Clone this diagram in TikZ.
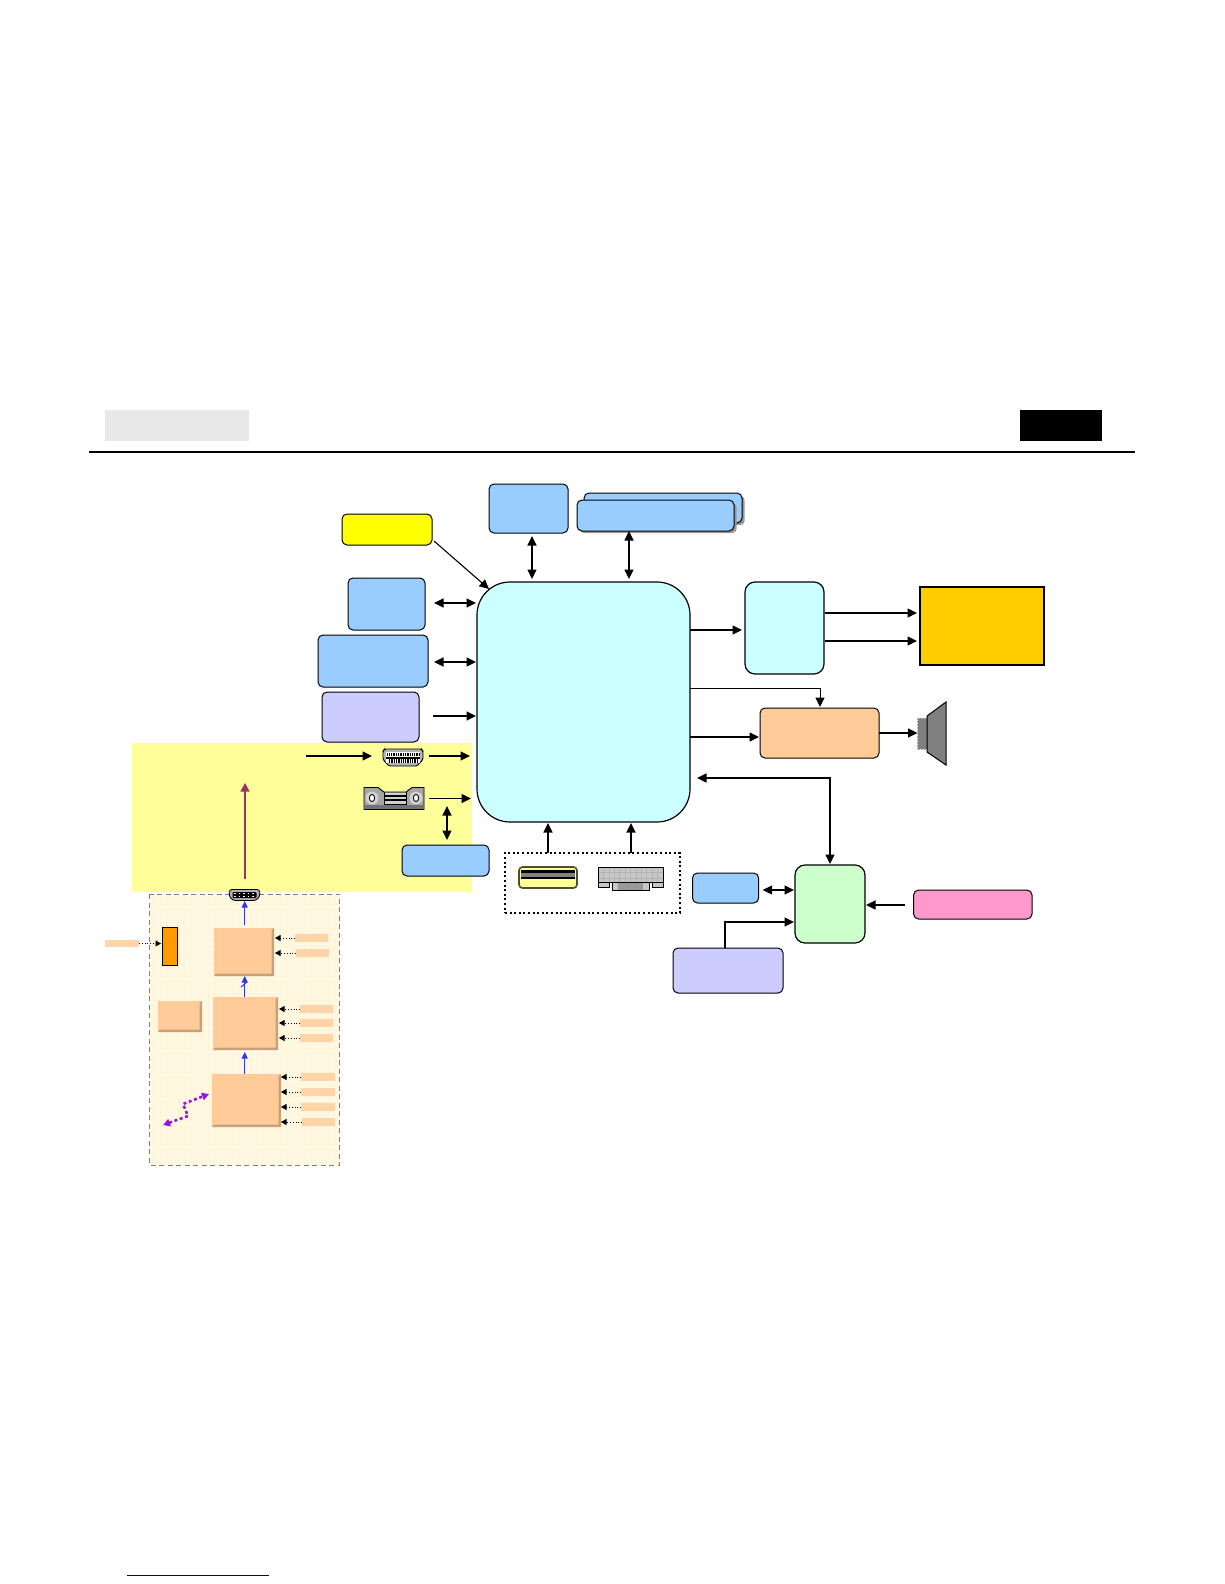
\documentclass[tikz,border=0pt]{standalone}
\usetikzlibrary{arrows.meta,calc}
\definecolor{cblue}{HTML}{99CCFF}
\definecolor{ccyan}{HTML}{CCFFFF}
\definecolor{clav}{HTML}{CCCCFF}
\definecolor{corange}{HTML}{FFCC99}
\definecolor{cbevel}{HTML}{C8A07A}
\definecolor{cyel}{HTML}{FFFF00}
\definecolor{camber}{HTML}{FFCC00}
\definecolor{cgreen}{HTML}{CCFFCC}
\definecolor{cpink}{HTML}{FF99CC}
\definecolor{cpale}{HTML}{FFFF99}
\definecolor{cdeep}{HTML}{FF9900}
\definecolor{ccream}{HTML}{FFF8E2}
\definecolor{cweave}{HTML}{FEF4D9}
\definecolor{cwine}{HTML}{993366}
\definecolor{carrow}{HTML}{3333EE}
\definecolor{cpurple}{HTML}{9A12E0}
\tikzset{
  base/.style={inner sep=0pt,outer sep=0pt},
  rbox/.style={base,draw=black,line width=1pt,rounded corners=5pt},
  bigbox/.style={base,draw=black,line width=1.2pt,rounded corners=#1},
  plain/.style={base},
  bevel/.style={base,fill=corange},
  tag/.style={base,fill=corange!85!white},
  arr/.style={line width=1.1pt,-{Triangle[length=9.5pt,width=9pt]}},
  darr/.style={line width=1.1pt,{Triangle[length=9.5pt,width=9pt]}-{Triangle[length=9.5pt,width=9pt]}},
  tagarr/.style={line width=.8pt,dotted,-{Triangle[length=5.5pt,width=6pt]}},
  bluearr/.style={draw=carrow,line width=1.1pt,-{Triangle[length=6.5pt,width=6pt]}},
}
\newcommand\bx[6]{%
  \pgfmathsetmacro\bw{#4-#2}\pgfmathsetmacro\bh{#5-#3}%
  \pgfmathsetmacro\bcx{(#4+#2)/2}\pgfmathsetmacro\bcy{(#5+#3)/2}%
  \node[#6,minimum width=\bw pt,minimum height=\bh pt] (#1) at (\bcx,\bcy) {};}
\newcommand\bevelbox[5]{%
  \bx{#1}{#2}{#3}{#4}{#5}{bevel}%
  \fill[cbevel] (#4,#3) -- (#4,#5) -- (#2,#5) -- ($(#2,#5)+(2,-2.5)$) -- ($(#4,#5)+(-2.5,-2.5)$) -- ($(#4,#3)+(-2.5,2)$) -- cycle;}
\newcommand\hdmiicon[4]{%
  \begin{scope}[shift={(#1,#2)},xscale=#3,yscale=#4]
    \draw[fill=gray!60,line width=.9pt,rounded corners=1.5pt] (-18.5,-8.5) -- (18.5,-8.5) -- (20,-6.5) -- (20,2) -- (14,8.5) -- (-14,8.5) -- (-20,2) -- (-20,-6.5) -- cycle;
    \fill[white] (-17,-5.5) rectangle (17,5.5);
    \fill[black] (-17,-1) rectangle (17,1);
    \draw[line width=3.2pt,dash pattern=on 1.3pt off 1pt] (-16.5,-3.2) -- (16.5,-3.2);
    \draw[line width=3.2pt,dash pattern=on 1.3pt off 1pt] (-14,3.4) -- (14,3.4);
  \end{scope}}
\begin{document}
\begin{tikzpicture}[x=1pt,y=-1pt]
\useasboundingbox (0,0) rectangle (1224,1584);
\fill[white] (0,0) rectangle (1224,1584);
% header
\bx{hleft}{105}{410}{248.5}{441}{base,fill=black!9}
\bx{hright}{1020}{410}{1102}{441}{base,fill=black}
\coordinate (rulel) at (89,451.5);
\coordinate (ruler) at (1135,451.5);
\draw[line width=2pt] (rulel) -- (ruler);
\coordinate (linkl) at (127,1575);
\coordinate (linkr) at (269,1575);
\draw[line width=1pt,draw={rgb,255:red,0;green,0;blue,128}] (linkl) -- (linkr);
% backgrounds
\bx{yellowzone}{132}{743}{472}{892}{base,fill=cpale}
\bx{cream}{149.5}{894}{339.5}{1165}{base,fill=ccream}
\foreach \gy in {898,904,...,1162}{\draw[cweave,line width=.6pt] (150,\gy) -- (339,\gy);}
\foreach \gx in {154,160,...,336}{\draw[cweave,line width=.6pt] (\gx,895) -- (\gx,1164);}
\draw[black!50,line width=1pt,dash pattern=on 5pt off 3.5pt] (cream.north west) rectangle (cream.south east);
% main
\bx{main}{477}{582}{690}{822}{bigbox=33pt,fill=ccyan}
% top and left boxes
\bx{ybox}{342}{514}{432}{545}{rbox,fill=cyel}
\bx{topblue}{489}{484}{568}{533}{rbox,fill=cblue}
\fill[black!40,rounded corners=4pt] (587,496) rectangle (744.5,525);
\bx{backblue}{584}{493}{742}{523}{rbox,fill=cblue}
\fill[black!40,rounded corners=4pt] (580,503) rectangle (736.5,533);
\bx{frontblue}{577}{500}{734}{531}{rbox,fill=cblue}
\bx{blue1}{348}{578}{425}{630}{rbox,fill=cblue}
\bx{blue2}{318}{635}{428}{687}{rbox,fill=cblue}
\bx{lav1}{322}{692}{419}{742}{rbox,fill=clav}
\bx{blue3}{402}{845}{489}{876}{rbox,fill=cblue}
% right
\bx{cyanr}{745}{582}{824}{674}{bigbox=10pt,fill=ccyan}
\bx{panel}{920}{587}{1044}{665}{base,draw=black,line width=1.4pt,fill=camber}
\bx{amp}{760}{708}{879}{758}{rbox,fill=corange}
\bx{green}{795}{865}{865}{943}{bigbox=10pt,fill=cgreen}
\bx{blue4}{692.5}{873}{758.6}{903}{rbox,fill=cblue}
\bx{pink}{913.6}{890}{1032}{919}{rbox,fill=cpink}
\bx{lav2}{673}{948}{783}{993}{rbox,fill=clav}
% speaker
\bx{spk}{917.5}{718}{927}{749}{base,fill=gray,draw=cwine!50,densely dotted,line width=.5pt}
\coordinate (cone1) at (927,716);
\coordinate (cone2) at (946,702);
\coordinate (cone3) at (946,765);
\coordinate (cone4) at (927,752);
\draw[fill=gray,line width=1pt,line join=miter] (cone1) -- (cone2) -- (cone3) -- (cone4) -- cycle;
% dotted group with connectors
\bx{group}{505}{853}{680}{913}{base,draw=black,line width=1.2pt,dash pattern=on 2pt off 2.6pt}
\bx{usb}{519}{867}{577}{888}{plain}
\bx{vga}{598}{867}{663}{890}{plain}
\draw[draw=black!55!olive,fill=cpale,line width=1.6pt,rounded corners=3.5pt] (usb.north west) rectangle (usb.south east);
\fill[black] (521,869.5) rectangle (575,872.5);
\fill[gray] (521,872.5) rectangle (575,877);
\fill[black] (521,877) rectangle (575,878.5);
% vga body
\draw[fill=black!22,line width=.9pt] (598,867) rectangle (663,882);
\draw[black!30,line width=.4pt,step=5.4pt,shift={(598,867)}] (0,0) grid (65,15);
\draw[line width=.9pt] (598,867) rectangle (663,882);
\draw[fill=black!22,line width=.9pt] (598,882) rectangle (609,887);
\draw[fill=black!22,line width=.9pt] (652,882) rectangle (663,887);
\draw[fill=black!22,line width=.9pt] (612,882) rectangle (649,890);
\fill[black!40] (618,882.5) rectangle (643,889.5);
% left connectors on yellow
\bx{hdmia}{383}{749}{423}{766}{plain}
\hdmiicon{403}{757.5}{1}{1}
\bx{dvi}{364}{787}{424}{810}{plain}
\draw[fill=black!35,line width=.9pt] (364,787.5) -- (378,787.5) -- (384,792) -- (406,792) -- (412,787.5) -- (424,787.5) -- (424,809.5) -- (364,809.5) -- cycle;
\fill[black!55] (364.5,805) rectangle (423.5,809);
\foreach \hx in {372,416}{
  \fill[black!18] (\hx,798) circle (6.5pt);
  \draw[fill=white,line width=.9pt] (\hx,798) ellipse (2.6pt and 3.6pt);}
\fill[black!18] (384,793) rectangle (406,804);
\fill[black] (384,795) rectangle (406,796.5);
\fill[black] (384,798.5) rectangle (406,801);
\draw[line width=.9pt] (384,792) -- (384,804) -- (406,804) -- (406,792);
\bx{hdmib}{229}{889}{260}{901}{plain}
\draw[fill=gray!60,line width=.9pt,rounded corners=2.5pt] (229.5,889.5) -- (259.5,889.5) -- (260,896) -- (256,900.5) -- (233,900.5) -- (229,896) -- cycle;
\fill[black,rounded corners=1pt] (232.5,892) rectangle (256.5,898);
\draw[white,line width=1pt,dash pattern=on 1.5pt off 3pt] (234,893.5) -- (255,893.5);
\draw[white,line width=1pt,dash pattern=on 1.5pt off 3pt] (234,896.5) -- (255,896.5);
% orange section
\bevelbox{procA}{214}{928}{274}{976}
\bevelbox{procB}{213}{997}{278}{1050}
\bevelbox{procC}{158}{1001}{202}{1032}
\bevelbox{procD}{212}{1074}{281}{1127}
\bx{chip}{162}{927}{177}{965}{base,draw=black,line width=1pt,fill=cdeep}
\bx{t0}{105}{940}{139}{947}{tag}
\bx{ta1}{295}{934}{328}{942}{tag}
\bx{ta2}{296}{949}{329}{957}{tag}
\bx{tb1}{300}{1005}{333}{1013}{tag}
\bx{tb2}{300}{1019}{333}{1027}{tag}
\bx{tb3}{300}{1034}{333}{1042}{tag}
\bx{td1}{301}{1073}{335}{1081}{tag}
\bx{td2}{301}{1088}{335}{1096}{tag}
\bx{td3}{301}{1103}{335}{1111}{tag}
\bx{td4}{302}{1118}{335}{1126}{tag}
\draw[tagarr] (t0.east) -- ([xshift=-1pt]chip.west |- t0.east);
\draw[tagarr] (ta1.west) -- ([xshift=1pt]procA.east |- ta1.west);
\draw[tagarr] (ta2.west) -- ([xshift=1pt]procA.east |- ta2.west);
\foreach \t in {tb1,tb2,tb3}{\draw[tagarr] (\t.west) -- ([xshift=1pt]procB.east |- \t.west);}
\foreach \t in {td1,td2,td3,td4}{\draw[tagarr] (\t.west) -- (procD.east |- \t.west);}
\draw[bluearr] (procD.north -| 244.7,0) -- ([yshift=-2pt]procB.south -| 244.7,0);
\draw[bluearr] (procB.north -| 244.7,0) -- (procA.south -| 244.7,0);
\coordinate (sl1) at (241,987);
\coordinate (sl2) at (247,982);
\draw[carrow,line width=1pt] (sl1) -- (sl2);
\draw[bluearr] ([yshift=3pt]procA.north -| 244.7,0) -- (hdmib.south -| 244.7,0);
\coordinate (redstart) at (245,879);
\coordinate (redend) at (245,783);
\draw[cwine,line width=1.1pt,-{Triangle[length=8.5pt,width=9pt]}] (redstart) -- (redend);
\coordinate (p1) at (163,1125);
\coordinate (p2) at (188,1116);
\coordinate (p3) at (183,1104);
\coordinate (p4) at (209,1094);
\draw[cpurple,line width=2.6pt,dash pattern=on 3pt off 2.6pt,{Triangle[length=7pt,width=7.5pt]}-{Triangle[length=7pt,width=7.5pt]}] (p1) -- (p2) -- (p3) -- (p4);
% connectors
\coordinate (hdmifeed) at (306,756);
\draw[arr] (hdmifeed) -- ([xshift=-11pt]hdmia.west |- hdmifeed);
\draw[arr] ([xshift=6pt]hdmia.east |- hdmifeed) -- ([xshift=-7pt]main.west |- hdmifeed);
\draw[arr] ([xshift=5pt]dvi.east) -- ([xshift=-6pt]main.west |- dvi.east);
\draw[darr] ([yshift=5pt]blue3.north -| 447,0) -- ([yshift=4pt]dvi.south -| 447,0);
\draw[arr] ([shift={(2pt,4pt)}]ybox.south east) -- ([shift={(12pt,-7pt)}]main.north west);
\draw[darr] ([yshift=-3pt]topblue.south -| 532,0) -- ([yshift=3pt]main.north -| 532,0);
\draw[darr] (frontblue.south -| 629,0) -- ([yshift=3pt]main.north -| 629,0);
\draw[darr] ([xshift=9pt]blue1.east |- 0,603) -- ([xshift=-1pt]main.west |- 0,603);
\draw[darr] ([xshift=6pt]blue2.east |- 0,662) -- ([xshift=-1pt]main.west |- 0,662);
\draw[arr] ([xshift=14pt]lav1.east |- 0,716) -- ([xshift=-1pt]main.west |- 0,716);
\draw[arr] (main.east |- 0,630) -- ([xshift=-3pt]cyanr.west |- 0,630);
\draw[line width=1pt,-{Triangle[length=9.5pt,width=9pt]}] (main.east |- 0,688) -| ([yshift=1pt]amp.north -| 820,0);
\draw[arr] (main.east |- 0,737) -- ([xshift=-1pt]amp.west |- 0,737);
\draw[arr] (amp.east |- 0,733) -- (spk.west |- 0,733);
\draw[arr] ([xshift=1pt]cyanr.east |- 0,613) -- ([xshift=-3pt]panel.west |- 0,613);
\draw[arr] ([xshift=1pt]cyanr.east |- 0,641) -- ([xshift=-3pt]panel.west |- 0,641);
\coordinate (busl) at (697,778);
\draw[darr] (busl) -| ([yshift=1pt]green.north -| 830,0);
\draw[arr] (group.north -| 548,0) -- ([yshift=-1pt]main.south -| 548,0);
\draw[arr] (group.north -| 631,0) -- ([yshift=-1pt]main.south -| 631,0);
\draw[darr] ([xshift=4pt]blue4.east |- 0,890) -- ([xshift=-1pt]green.west |- 0,890);
\draw[arr] ([xshift=-9pt]pink.west |- 0,905) -- ([xshift=1pt]green.east |- 0,905);
\draw[arr] (lav2.north -| 725,0) |- ([xshift=-1pt]green.west |- 0,922);
\end{tikzpicture}
\end{document}
